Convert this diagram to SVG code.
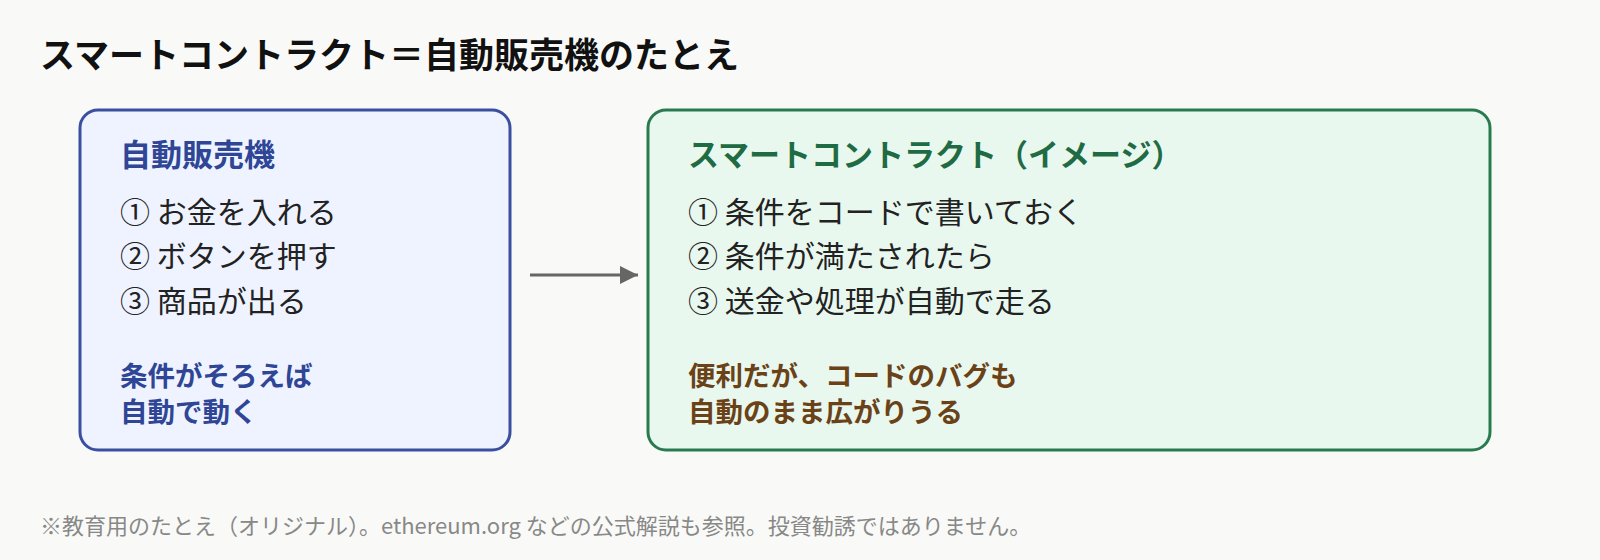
<svg xmlns="http://www.w3.org/2000/svg" width="1600" height="560" viewBox="0 0 1600 560">
<style>
text{font-family:"Noto Sans CJK JP","Noto Sans",sans-serif}
.t{font-size:35px;font-weight:bold;fill:#111}
.h{font-size:31px;font-weight:bold}
.i{font-size:30px;fill:#222}
.n{font-size:27.5px;font-weight:bold}
.f{font-size:22px;fill:#888}
</style>
<defs><marker id="b" markerWidth="20" markerHeight="20" refX="18" refY="10" orient="auto" markerUnits="userSpaceOnUse"><path d="M0,1L18,10L0,19z" fill="#666"/></marker></defs>
<rect width="1600" height="560" fill="#f9faf7"/>
<text class="t" x="40" y="68">スマートコントラクト＝自動販売機のたとえ</text>
<g id="vending">
<rect x="80" y="110" width="430" height="340" rx="18" fill="#eef3ff" stroke="#3a4fa0" stroke-width="3"/>
<text class="h" x="120" y="166" fill="#2f4596">自動販売機</text>
<text class="i" x="120" y="223">① お金を入れる</text>
<text class="i" x="120" y="267">② ボタンを押す</text>
<text class="i" x="120" y="312">③ 商品が出る</text>
<text class="n" x="120" y="386" fill="#2f4596">条件がそろえば</text>
<text class="n" x="120" y="422" fill="#2f4596">自動で動く</text>
</g>
<g id="contract">
<rect x="648" y="110" width="842" height="340" rx="18" fill="#e9f8ee" stroke="#2a7a4f" stroke-width="3"/>
<text class="h" x="688" y="166" fill="#1f6b43">スマートコントラクト（イメージ）</text>
<text class="i" x="688" y="223">① 条件をコードで書いておく</text>
<text class="i" x="688" y="267">② 条件が満たされたら</text>
<text class="i" x="688" y="312">③ 送金や処理が自動で走る</text>
<text class="n" x="688" y="386" fill="#6b4218">便利だが、コードのバグも</text>
<text class="n" x="688" y="422" fill="#6b4218">自動のまま広がりうる</text>
</g>
<g id="connectors">
<line x1="530" y1="275" x2="638" y2="275" stroke="#666" stroke-width="3" marker-end="url(#b)"/>
</g>
<text class="f" x="40" y="534">※教育用のたとえ（オリジナル）。ethereum.org などの公式解説も参照。投資勧誘ではありません。</text>
</svg>
